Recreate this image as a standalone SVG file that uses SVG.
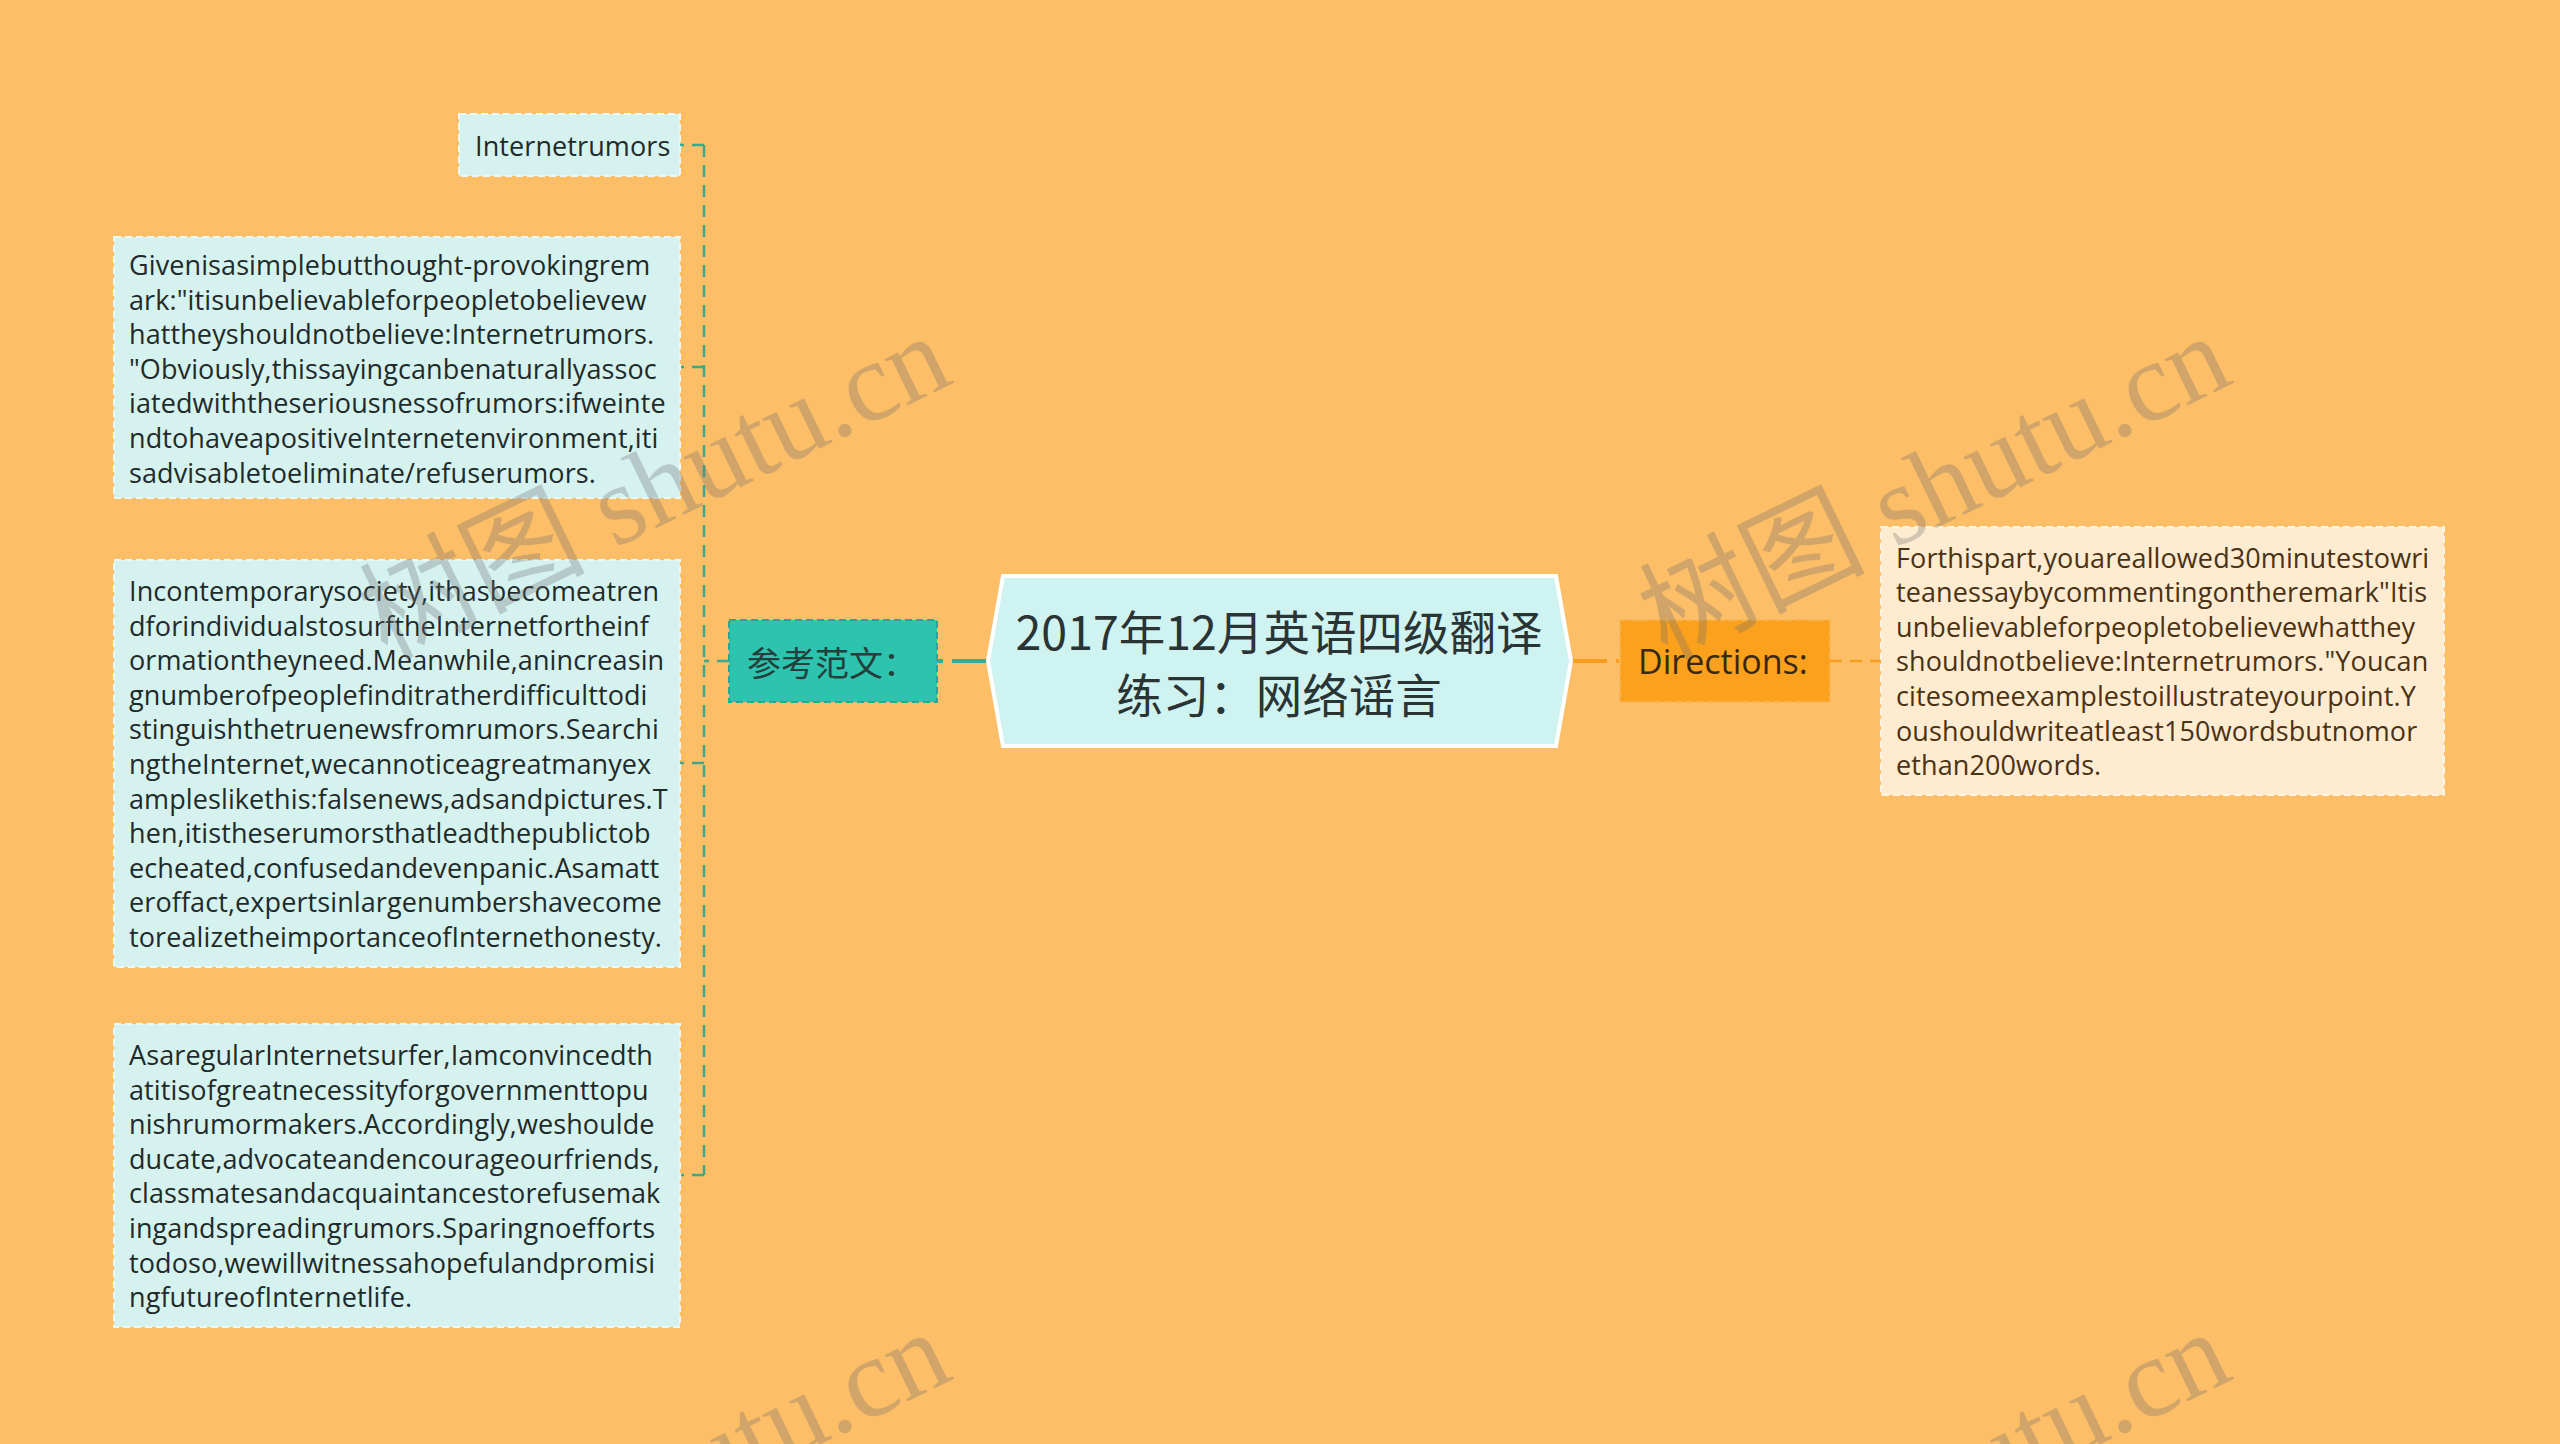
<svg xmlns="http://www.w3.org/2000/svg" width="2560" height="1444" viewBox="0 0 2560 1444">
<style>
.bg{fill:#FDBE68}
.leaf{fill:#D5F2EF;stroke:#E9F9F7;stroke-width:2;stroke-dasharray:7 4}
.teal{fill:#2EC3AE;stroke:#25A895;stroke-width:2;stroke-dasharray:7 4}
.orng{fill:#FBA11E;stroke:#F7B653;stroke-width:2;stroke-dasharray:7 4}
.cream{fill:#FEEBD0;stroke:#FDF3E3;stroke-width:2;stroke-dasharray:7 4}
.root{fill:#CFF3F0;stroke:#FFFFFF;stroke-width:4}
.t{font-family:"Open Sans","Noto Sans CJK SC",sans-serif;font-size:27px;letter-spacing:0.1px;fill:#1F2A2A;dominant-baseline:central}
.tb{font-family:"Open Sans","Noto Sans CJK SC",sans-serif;font-size:27px;letter-spacing:0.1px;fill:#4A3214;dominant-baseline:central}
.lab{font-family:"Noto Sans CJK SC",sans-serif;font-size:34px;fill:#24403C;dominant-baseline:central}
.labd{font-family:"Open Sans","Noto Sans CJK SC",sans-serif;font-size:34px;fill:#3A2810;dominant-baseline:central}
.rt{font-family:"Noto Sans CJK SC",sans-serif;font-size:46.5px;fill:#2A3434;text-anchor:middle;dominant-baseline:central}
.cg{fill:none;stroke:#3BA98C;stroke-width:2.5;stroke-dasharray:12 8}
.co{fill:none;stroke:#F59E22;stroke-width:2.5;stroke-dasharray:12 8}
.wm{font-family:"Liberation Serif","Noto Sans CJK SC",serif;font-size:113px;fill:#6E6E6E;fill-opacity:0.3}
</style>
<rect class="bg" x="0" y="0" width="2560" height="1444"/>

<g id="connectors">
<path class="cg" d="M729 661 H704"/>
<path class="cg" d="M704 145 V1175"/>
<path class="cg" d="M704 145 H680"/>
<path class="cg" d="M704 367 H680"/>
<path class="cg" d="M704 763 H680"/>
<path class="cg" d="M704 1175 H680"/>
<path d="M988 661 H937" fill="none" stroke="#3BA98C" stroke-width="4" stroke-dasharray="36 9"/>
<path d="M1571 661 H1620" fill="none" stroke="#F59E22" stroke-width="4" stroke-dasharray="36 9"/>
<path class="co" d="M1830 661 H1881"/>
</g>

<g id="root">
<polygon class="root" points="988,661 1003,576 1556,576 1571,661 1556,746 1003,746"/>
<text class="rt" x="1279" y="629">2017年12月英语四级翻译</text>
<text class="rt" x="1279" y="692">练习：网络谣言</text>
</g>

<g id="n-cankao">
<rect class="teal" x="729" y="620" width="208" height="82"/>
<text class="lab" x="747" y="661">参考范文：</text>
</g>

<g id="n-internetrumors">
<rect class="leaf" x="459" y="114" width="221" height="62"/>
<text class="t" x="475" y="145">Internetrumors</text>
</g>

<g id="n-given">
<rect class="leaf" x="114" y="237" width="566" height="261"/>
<text class="t" x="129" y="264.5">Givenisasimplebutthought-provokingrem</text>
<text class="t" x="129" y="299.1">ark:"itisunbelievableforpeopletobelievew</text>
<text class="t" x="129" y="333.7">hattheyshouldnotbelieve:Internetrumors.</text>
<text class="t" x="129" y="368.3">"Obviously,thissayingcanbenaturallyassoc</text>
<text class="t" x="129" y="402.9">iatedwiththeseriousnessofrumors:ifweinte</text>
<text class="t" x="129" y="437.5">ndtohaveapositiveInternetenvironment,iti</text>
<text class="t" x="129" y="472.1">sadvisabletoeliminate/refuserumors.</text>
</g>

<g id="n-contemporary">
<rect class="leaf" x="114" y="560" width="566" height="407"/>
<text class="t" x="129" y="590.5">Incontemporarysociety,ithasbecomeatren</text>
<text class="t" x="129" y="625.1">dforindividualstosurftheInternetfortheinf</text>
<text class="t" x="129" y="659.7">ormationtheyneed.Meanwhile,anincreasin</text>
<text class="t" x="129" y="694.3">gnumberofpeoplefinditratherdifficulttodi</text>
<text class="t" x="129" y="728.9">stinguishthetruenewsfromrumors.Searchi</text>
<text class="t" x="129" y="763.5">ngtheInternet,wecannoticeagreatmanyex</text>
<text class="t" x="129" y="798.1">ampleslikethis:falsenews,adsandpictures.T</text>
<text class="t" x="129" y="832.7">hen,itistheserumorsthatleadthepublictob</text>
<text class="t" x="129" y="867.3">echeated,confusedandevenpanic.Asamatt</text>
<text class="t" x="129" y="901.9">eroffact,expertsinlargenumbershavecome</text>
<text class="t" x="129" y="936.5">torealizetheimportanceofInternethonesty.</text>
</g>

<g id="n-regular">
<rect class="leaf" x="114" y="1024" width="566" height="303"/>
<text class="t" x="129" y="1054.4">AsaregularInternetsurfer,Iamconvincedth</text>
<text class="t" x="129" y="1089">atitisofgreatnecessityforgovernmenttopu</text>
<text class="t" x="129" y="1123.6">nishrumormakers.Accordingly,weshoulde</text>
<text class="t" x="129" y="1158.2">ducate,advocateandencourageourfriends,</text>
<text class="t" x="129" y="1192.8">classmatesandacquaintancestorefusemak</text>
<text class="t" x="129" y="1227.4">ingandspreadingrumors.Sparingnoefforts</text>
<text class="t" x="129" y="1262">todoso,wewillwitnessahopefulandpromisi</text>
<text class="t" x="129" y="1296.6">ngfutureofInternetlife.</text>
</g>

<g id="n-directions">
<rect class="orng" x="1620" y="620" width="210" height="82"/>
<text class="labd" x="1638" y="661">Directions:</text>
</g>

<g id="n-directions-text">
<rect class="cream" x="1881" y="527" width="563" height="268"/>
<text class="tb" x="1896" y="557">Forthispart,youareallowed30minutestowri</text>
<text class="tb" x="1896" y="591.6">teanessaybycommentingontheremark"Itis</text>
<text class="tb" x="1896" y="626.2">unbelievableforpeopletobelievewhatthey</text>
<text class="tb" x="1896" y="660.8">shouldnotbelieve:Internetrumors."Youcan</text>
<text class="tb" x="1896" y="695.4">citesomeexamplestoillustrateyourpoint.Y</text>
<text class="tb" x="1896" y="730">oushouldwriteatleast150wordsbutnomor</text>
<text class="tb" x="1896" y="764.6">ethan200words.</text>
</g>

<g id="watermark">
<text class="wm" transform="translate(386,660) rotate(-26)">树图 shutu.cn</text>
<text class="wm" transform="translate(1666,660) rotate(-26)">树图 shutu.cn</text>
<text class="wm" transform="translate(386,1656) rotate(-26)">树图 shutu.cn</text>
<text class="wm" transform="translate(1666,1656) rotate(-26)">树图 shutu.cn</text>
</g>
</svg>
